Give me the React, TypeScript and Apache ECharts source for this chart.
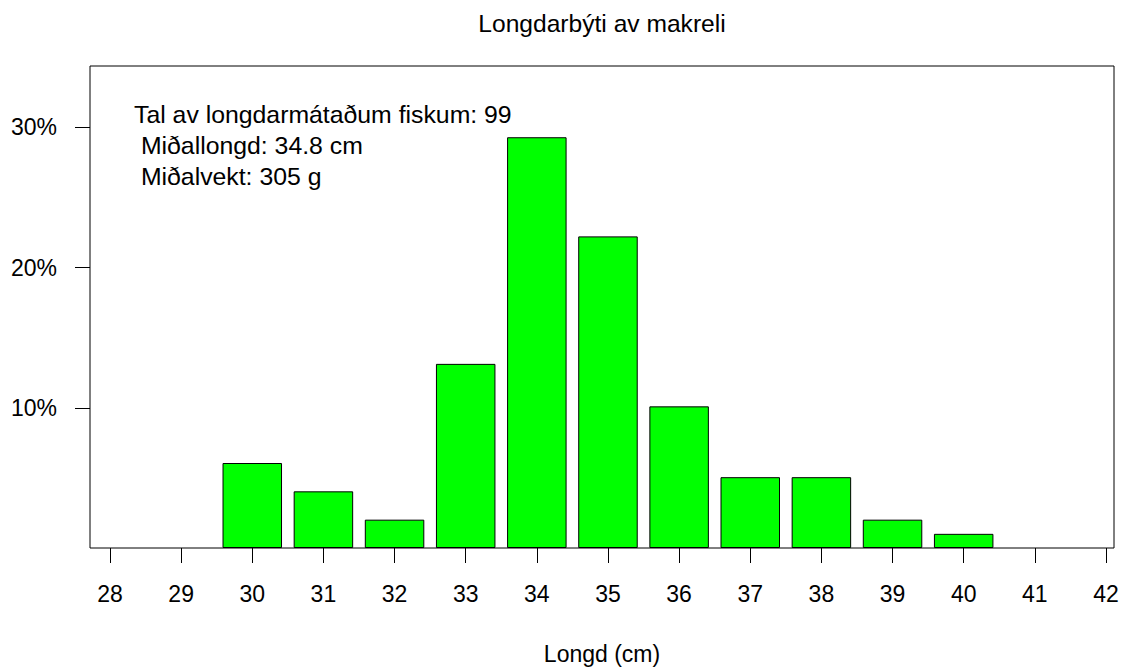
import React, { useEffect, useRef } from "react";
import * as echarts from "echarts";

const TITLE = "Longdarbýti av makreli";
const X_NAME = "Longd (cm)";
const INFO_LINES = [
  "Tal av longdarmátaðum fiskum: 99",
  " Miðallongd: 34.8 cm",
  " Miðalvekt: 305 g",
];
const LENGTHS = [30, 31, 32, 33, 34, 35, 36, 37, 38, 39, 40];
const PERCENTS = [6.06, 4.04, 2.02, 13.13, 29.29, 22.22, 10.1, 5.05, 5.05, 2.02, 1.01];
const X_TICKS = [28, 29, 30, 31, 32, 33, 34, 35, 36, 37, 38, 39, 40, 41, 42];
const Y_TICKS = [10, 20, 30];

const FONT = "Liberation Sans, Arial, Helvetica, sans-serif";

export default function App() {
  const ref = useRef<HTMLDivElement>(null);
  useEffect(() => {
    if (!ref.current) return;
    const chart = echarts.init(ref.current, undefined, { renderer: "svg" });
    chart.setOption({
      animation: false,
      backgroundColor: "#ffffff",
      textStyle: { fontFamily: FONT },
      grid: {
        left: 90,
        right: 11,
        top: 66,
        bottom: 121,
        show: true,
        borderColor: "#000",
        borderWidth: 1,
        containLabel: false,
      },
      graphic: [
        {
          type: "text",
          x: 602,
          y: 23,
          style: {
            text: TITLE,
            fontSize: 24.6,
            fontFamily: FONT,
            fill: "#000",
            textAlign: "center",
            textVerticalAlign: "middle",
          },
        },
        {
          type: "text",
          x: 134,
          y: 99,
          style: {
            text: INFO_LINES.join("\n"),
            fontSize: 24.8,
            lineHeight: 31,
            fontFamily: FONT,
            fill: "#000",
            textAlign: "left",
            textVerticalAlign: "top",
          },
        },
      ],
      xAxis: {
        type: "value",
        min: 27.719,
        max: 42.113,
        name: X_NAME,
        nameLocation: "middle",
        nameGap: 94,
        nameTextStyle: { fontSize: 23, color: "#000", fontFamily: FONT },
        axisLine: { show: false },
        splitLine: { show: false },
        axisTick: {
          show: true,
          inside: false,
          length: 15,
          customValues: X_TICKS,
          lineStyle: { color: "#000", width: 1 },
        },
        axisLabel: {
          show: true,
          margin: 34,
          fontSize: 23,
          color: "#000",
          fontFamily: FONT,
          customValues: X_TICKS,
          showMinLabel: true,
          showMaxLabel: true,
        },
      },
      yAxis: {
        type: "value",
        min: 0,
        max: 34.37,
        axisLine: { show: false },
        splitLine: { show: false },
        axisTick: {
          show: true,
          inside: false,
          length: 15,
          customValues: Y_TICKS,
          lineStyle: { color: "#000", width: 1 },
        },
        axisLabel: {
          show: true,
          margin: 33,
          fontSize: 23,
          color: "#000",
          fontFamily: FONT,
          customValues: Y_TICKS,
          formatter: (v: number) => `${v}%`,
        },
      },
      series: [
        {
          type: "bar",
          data: LENGTHS.map((l, i) => [l, PERCENTS[i]]),
          barWidth: 59.5,
          itemStyle: { color: "#00ff00", borderColor: "#000", borderWidth: 1 },
          emphasis: { disabled: true },
        },
      ],
    });
    return () => chart.dispose();
  }, []);
  return (
    <div
      ref={ref}
      style={{ position: "fixed", left: 0, top: 0, width: 1125, height: 670 }}
    />
  );
}
